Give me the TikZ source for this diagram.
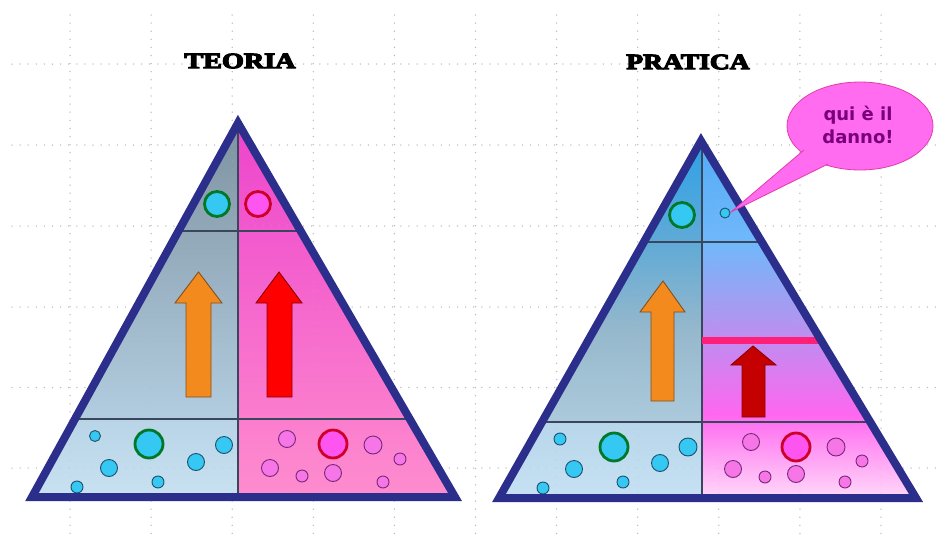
\documentclass[tikz,border=0pt]{standalone}
\usepackage{fontspec}
\usepackage{graphicx}
\setmainfont{DejaVu Sans}
\newfontfamily\titlefont[FakeBold=5]{Liberation Serif}
\newfontfamily\bubblefont{DejaVu Sans}
\usetikzlibrary{shapes.geometric}
\definecolor{frameblue}{RGB}{44,46,140}
\definecolor{sepline}{RGB}{58,70,92}
\definecolor{gridgray}{RGB}{185,185,185}
\definecolor{cyanfill}{RGB}{52,200,242}
\definecolor{cyanedge}{RGB}{30,80,110}
\definecolor{greenedge}{RGB}{0,120,40}
\definecolor{pinkfill}{RGB}{246,118,232}
\definecolor{pinkedge}{RGB}{120,40,120}
\definecolor{bigpink}{RGB}{255,85,240}
\definecolor{rededge}{RGB}{205,0,40}
\definecolor{orangefill}{RGB}{242,138,30}
\definecolor{orangeedge}{RGB}{130,80,30}
\definecolor{redfill}{RGB}{255,0,0}
\definecolor{redfilledge}{RGB}{140,0,0}
\definecolor{darkredfill}{RGB}{196,0,0}
\definecolor{barpink}{RGB}{255,30,120}
\definecolor{bubpink}{RGB}{255,108,240}
\definecolor{bubedge}{RGB}{225,60,170}
\definecolor{bubtext}{RGB}{120,0,120}
\tikzset{
  gridline/.style={gridgray, line width=1.5pt, line cap=round, dash pattern=on 0pt off 8.1pt},
  faintgrid/.style={gridline, draw opacity=0.3},
  frame/.style={draw=frameblue, line width=8pt, line join=miter},
  sep/.style={draw=sepline, line width=1.3pt},
  bubc/.style={fill=cyanfill, draw=cyanedge, line width=0.9pt},
  bigc/.style={fill=cyanfill, draw=greenedge, line width=2.8pt},
  pubc/.style={fill=pinkfill, draw=pinkedge, line width=0.9pt},
  bigp/.style={fill=bigpink, draw=rededge, line width=2.8pt},
  orangearrow/.style={fill=orangefill, draw=orangeedge, line width=0.9pt},
  redarrow/.style={fill=redfill, draw=redfilledge, line width=0.9pt},
  darkarrow/.style={fill=darkredfill, draw=redfilledge, line width=0.9pt},
  titletext/.style={font=\titlefont\fontsize{22}{26}\selectfont, inner sep=0pt}
}
\newcommand{\mygrid}[1]{%
  \foreach \gx in {70,151.1,232.2,313.3,394.4,475.5,556.6,637.7,718.8,799.9,881} {
    \draw[#1] (\gx,15) -- (\gx,536);
  }
  \foreach \gy in {64,145,226,307,387.5,468} {
    \draw[#1] (12,\gy) -- (936,\gy);
  }}
\begin{document}
\begin{tikzpicture}[x=1pt,y=-1pt]
\fill[white] (0,0) rectangle (939,538);
\useasboundingbox (0,0) rectangle (939,538);
% grid
\mygrid{gridline}
% titles
\node[titletext] (teoria) at (240,61) {\scalebox{1.28}[1]{\bfseries TEORIA}};
\node[titletext] (pratica) at (688,62) {\scalebox{1.25}[1]{\bfseries PRATICA}};

% ===== left triangle =====
\begin{scope}
\clip (238,123) -- (455,497) -- (32,497) -- cycle;
\shade[top color={rgb,255:red,124;green,144;blue,158}, bottom color={rgb,255:red,178;green,205;blue,224}] (20,110) rectangle (238.5,419.5);
\shade[top color={rgb,255:red,184;green,212;blue,230}, bottom color={rgb,255:red,202;green,227;blue,243}] (20,419) rectangle (238.5,505);
\shade[top color={rgb,255:red,236;green,66;blue,204}, bottom color={rgb,255:red,255;green,142;blue,206}] (238,110) rectangle (470,505);
\mygrid{faintgrid}
\draw[sep] (20,231) -- (470,231);
\draw[sep] (20,419) -- (470,419);
\draw[sep] (238,110) -- (238,505);
\end{scope}
% left circles
\draw[bigc] (217,204) circle[radius=12.5pt];
\draw[bigp] (258,204) circle[radius=12.5pt];
\draw[bubc] (95,436) circle[radius=5.5pt];
\draw[bigc] (149,444) circle[radius=14pt];
\draw[bubc] (224,445) circle[radius=8.5pt];
\draw[bubc] (109,468) circle[radius=8.5pt];
\draw[bubc] (196,462) circle[radius=8.5pt];
\draw[bubc] (158,482) circle[radius=6pt];
\draw[bubc] (77,487) circle[radius=6pt];
\draw[pubc] (287,439) circle[radius=8.5pt];
\draw[bigp] (333,444) circle[radius=14pt];
\draw[pubc] (373,445) circle[radius=9pt];
\draw[pubc] (400,459) circle[radius=6pt];
\draw[pubc] (270,468) circle[radius=8.5pt];
\draw[pubc] (302,476) circle[radius=6pt];
\draw[pubc] (333,473) circle[radius=8.5pt];
\draw[pubc] (383,482) circle[radius=6pt];
% left arrows
\draw[orangearrow] (186,397) -- (186,303) -- (175,303) -- (198.5,272) -- (222,303) -- (211,303) -- (211,397) -- cycle;
\draw[redarrow] (267,397) -- (267,303) -- (256,303) -- (279,272) -- (302,303) -- (292,303) -- (292,397) -- cycle;
% left frame
\draw[frame] (238,123) -- (455,497) -- (32,497) -- cycle;

% ===== right triangle =====
\begin{scope}
\clip (701,141) -- (916,498) -- (499,498) -- cycle;
\shade[top color={rgb,255:red,40;green,160;blue,234}, bottom color={rgb,255:red,96;green,170;blue,214}] (490,130) rectangle (702.5,243);
\shade[top color={rgb,255:red,96;green,170;blue,214}, bottom color={rgb,255:red,150;green,184;blue,204}] (490,242) rectangle (702.5,331);
\shade[top color={rgb,255:red,150;green,184;blue,204}, bottom color={rgb,255:red,172;green,202;blue,220}] (490,330) rectangle (702.5,423);
\shade[top color={rgb,255:red,184;green,214;blue,234}, bottom color={rgb,255:red,200;green,226;blue,244}] (490,422) rectangle (702.5,505);
\shade[top color={rgb,255:red,80;green,170;blue,245}, bottom color={rgb,255:red,112;green,184;blue,250}] (702,130) rectangle (925,243);
\shade[top color={rgb,255:red,112;green,184;blue,250}, bottom color={rgb,255:red,176;green,150;blue,240}] (702,242) rectangle (925,321);
\shade[top color={rgb,255:red,176;green,150;blue,240}, bottom color={rgb,255:red,255;green,102;blue,240}] (702,320) rectangle (925,416);
\shade[top color={rgb,255:red,255;green,104;blue,240}, bottom color={rgb,255:red,255;green,226;blue,250}] (702,415) rectangle (925,505);
\mygrid{faintgrid}
\draw[sep] (490,242) -- (925,242);
\draw[sep] (490,422) -- (925,422);
\draw[sep] (702,130) -- (702,505);
\end{scope}
% pink bar
\draw[barpink, line width=7pt] (702,340) -- (820,340);
% right circles
\draw[bigc] (682,215) circle[radius=12.5pt];
\draw[bubc] (725,213) circle[radius=5pt];
\draw[bubc] (560,439) circle[radius=6pt];
\draw[bigc] (614,447) circle[radius=14pt];
\draw[bubc] (688,447) circle[radius=9pt];
\draw[bubc] (574,469) circle[radius=8.5pt];
\draw[bubc] (660,463) circle[radius=8.5pt];
\draw[bubc] (623,482) circle[radius=6pt];
\draw[bubc] (543,488) circle[radius=6pt];
\draw[pubc] (751,442) circle[radius=8.5pt];
\draw[bigp] (796,447) circle[radius=14pt];
\draw[pubc] (836,447) circle[radius=9pt];
\draw[pubc] (862,461) circle[radius=6pt];
\draw[pubc] (733,469) circle[radius=8.5pt];
\draw[pubc] (765,477) circle[radius=6pt];
\draw[pubc] (796,474) circle[radius=8.5pt];
\draw[pubc] (845,482) circle[radius=6pt];
% right arrows
\draw[orangearrow] (651,401) -- (651,312) -- (640,312) -- (663,281) -- (685,312) -- (674,312) -- (674,401) -- cycle;
\draw[darkarrow] (742,417) -- (742,365) -- (731,365) -- (753,346) -- (776,365) -- (765,365) -- (765,417) -- cycle;
% right frame
\draw[frame] (701,141) -- (916,498) -- (499,498) -- cycle;

% ===== speech bubble =====
\node[ellipse, fill=bubpink, draw=bubedge, line width=0.8pt, minimum width=146pt, minimum height=88pt, inner sep=0pt] (bubble) at (860,126) {};
\coordinate (tailA) at (804,150);
\coordinate (tailB) at (828,164);
\coordinate (tailtip) at (731,212);
\fill[bubpink] (tailA) -- (tailtip) -- (tailB) -- cycle;
\draw[bubedge, line width=0.8pt] (tailA) -- (tailtip) -- (tailB);
\node[font=\bubblefont\bfseries\fontsize{18}{23}\selectfont, text=bubtext, align=center, inner sep=0pt] (bubtext) at (858,125) {qui è il\\danno!};
\end{tikzpicture}
\end{document}
